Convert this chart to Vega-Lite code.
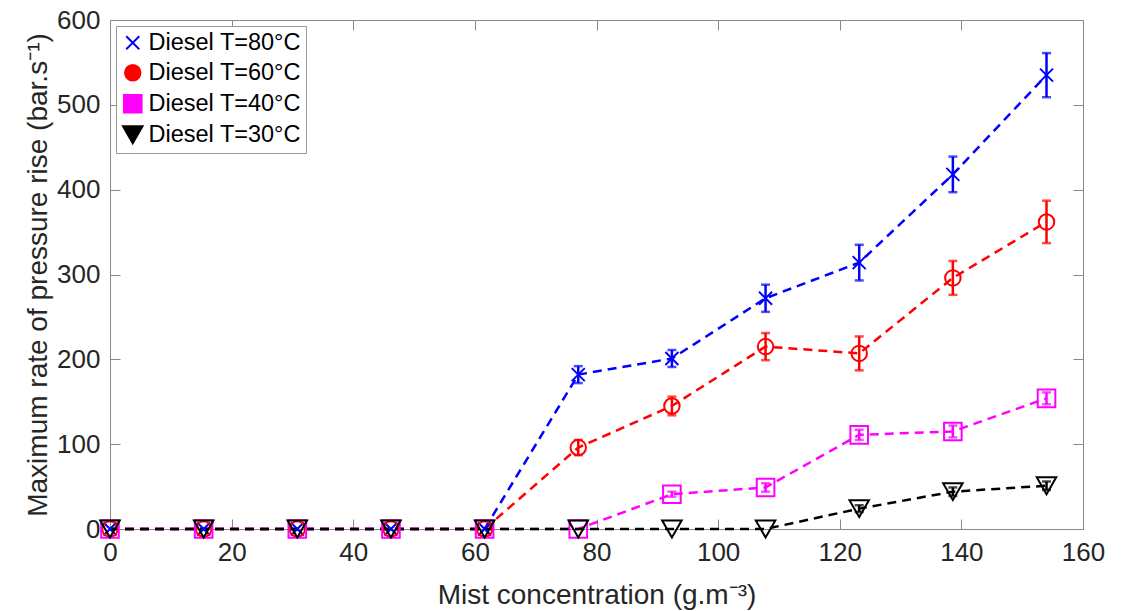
{
  "$schema": "https://vega.github.io/schema/vega-lite/v6.json",
  "width": 973,
  "height": 509,
  "autosize": {"type": "none"},
  "padding": {"left": 110, "top": 20, "right": 46, "bottom": 82},
  "background": "white",
  "config": {
    "font": "Liberation Sans",
    "view": {"stroke": "#888888", "strokeWidth": 1},
    "axis": {
      "grid": false,
      "domainColor": "#888888",
      "tickColor": "#888888",
      "tickSize": -10,
      "labelFontSize": 26,
      "labelColor": "#262626",
      "labelOverlap": false,
      "labelFlush": false,
      "titleFontSize": 28,
      "titleFontWeight": "normal",
      "titleColor": "#262626"
    },
    "legend": {"title": null, "orient": "top-left", "offset": 6, "fillColor": "white", "strokeColor": "#999999", "padding": 5,
               "labelFontSize": 23.5, "labelColor": "#000000", "symbolStrokeWidth": 2, "symbolSize": 196, "rowPadding": 5, "labelOffset": 4,
               "symbolFillColor": "transparent", "symbolOpacity": 1}
  },
  "data": {
    "values": [
      {"x": 0, "y": 0, "err": 0, "s": "Diesel T=80°C"},
      {"x": 15.4, "y": 0, "err": 0, "s": "Diesel T=80°C"},
      {"x": 30.8, "y": 0, "err": 0, "s": "Diesel T=80°C"},
      {"x": 46.2, "y": 0, "err": 0, "s": "Diesel T=80°C"},
      {"x": 61.6, "y": 0, "err": 0, "s": "Diesel T=80°C"},
      {"x": 77, "y": 182, "err": 10, "s": "Diesel T=80°C"},
      {"x": 92.4, "y": 201, "err": 10, "s": "Diesel T=80°C"},
      {"x": 107.8, "y": 272, "err": 16, "s": "Diesel T=80°C"},
      {"x": 123.2, "y": 314, "err": 21, "s": "Diesel T=80°C"},
      {"x": 138.6, "y": 418, "err": 21, "s": "Diesel T=80°C"},
      {"x": 154, "y": 535, "err": 26, "s": "Diesel T=80°C"},
      {"x": 0, "y": 0, "err": 0, "s": "Diesel T=60°C"},
      {"x": 15.4, "y": 0, "err": 0, "s": "Diesel T=60°C"},
      {"x": 30.8, "y": 0, "err": 0, "s": "Diesel T=60°C"},
      {"x": 46.2, "y": 0, "err": 0, "s": "Diesel T=60°C"},
      {"x": 61.6, "y": 0, "err": 0, "s": "Diesel T=60°C"},
      {"x": 77, "y": 96, "err": 9, "s": "Diesel T=60°C"},
      {"x": 92.4, "y": 145, "err": 11, "s": "Diesel T=60°C"},
      {"x": 107.8, "y": 215, "err": 16, "s": "Diesel T=60°C"},
      {"x": 123.2, "y": 207, "err": 20, "s": "Diesel T=60°C"},
      {"x": 138.6, "y": 296, "err": 20, "s": "Diesel T=60°C"},
      {"x": 154, "y": 362, "err": 25, "s": "Diesel T=60°C"},
      {"x": 0, "y": 0, "err": 0, "s": "Diesel T=40°C"},
      {"x": 15.4, "y": 0, "err": 0, "s": "Diesel T=40°C"},
      {"x": 30.8, "y": 0, "err": 0, "s": "Diesel T=40°C"},
      {"x": 46.2, "y": 0, "err": 0, "s": "Diesel T=40°C"},
      {"x": 61.6, "y": 0, "err": 0, "s": "Diesel T=40°C"},
      {"x": 77, "y": 0, "err": 0, "s": "Diesel T=40°C"},
      {"x": 92.4, "y": 41, "err": 3, "s": "Diesel T=40°C"},
      {"x": 107.8, "y": 49, "err": 5, "s": "Diesel T=40°C"},
      {"x": 123.2, "y": 111, "err": 6, "s": "Diesel T=40°C"},
      {"x": 138.6, "y": 115, "err": 7, "s": "Diesel T=40°C"},
      {"x": 154, "y": 154, "err": 7, "s": "Diesel T=40°C"},
      {"x": 0, "y": 0, "err": 0, "s": "Diesel T=30°C"},
      {"x": 15.4, "y": 0, "err": 0, "s": "Diesel T=30°C"},
      {"x": 30.8, "y": 0, "err": 0, "s": "Diesel T=30°C"},
      {"x": 46.2, "y": 0, "err": 0, "s": "Diesel T=30°C"},
      {"x": 61.6, "y": 0, "err": 0, "s": "Diesel T=30°C"},
      {"x": 77, "y": 0, "err": 0, "s": "Diesel T=30°C"},
      {"x": 92.4, "y": 0, "err": 0, "s": "Diesel T=30°C"},
      {"x": 107.8, "y": 0, "err": 0, "s": "Diesel T=30°C"},
      {"x": 123.2, "y": 24, "err": 4, "s": "Diesel T=30°C"},
      {"x": 138.6, "y": 44, "err": 5, "s": "Diesel T=30°C"},
      {"x": 154, "y": 51, "err": 5, "s": "Diesel T=30°C"}
    ]
  },
  "resolve": {"axis": {"x": "independent", "y": "independent"}},
  "layer": [
    {
      "mark": {"type": "line", "strokeDash": [9, 6], "strokeWidth": 2.5},
      "encoding": {
        "x": {"field": "x", "type": "quantitative", "scale": {"domain": [0, 160], "nice": false},
              "axis": {"values": [0, 20, 40, 60, 80, 100, 120, 140, 160], "title": "Mist concentration (g.m⁻³)", "labelPadding": 20, "titlePadding": 16}},
        "y": {"field": "y", "type": "quantitative", "scale": {"domain": [0, 600], "nice": false},
              "axis": {"values": [0, 100, 200, 300, 400, 500, 600], "title": "Maximum rate of pressure rise (bar.s⁻¹)", "labelPadding": 20, "titlePadding": 4}},
        "color": {"field": "s", "type": "nominal",
                  "legend": {"encode": {"symbols": {"update": {
                               "fill": {"value": "transparent"}, "strokeWidth": {"value": 2}, "opacity": {"value": 1}, "strokeDash": {"value": []},
                               "shape": {"signal": "datum.label == 'Diesel T=80°C' ? 'M-1.85,0H-1.1M1.1,0H1.85M-0.9,-0.9L0.9,0.9M-0.9,0.9L0.9,-0.9' : datum.label == 'Diesel T=60°C' ? 'M-1.85,0H-1.4M1.4,0H1.85M1.4,0A1.4,1.4 0 1,1 -1.4,0A1.4,1.4 0 1,1 1.4,0' : datum.label == 'Diesel T=40°C' ? 'M-1.85,0H-1.15M1.15,0H1.85M-1.15,-1.15H1.15V1.15H-1.15Z' : 'M-1.85,0H-0.8M0.8,0H1.85M-1.5,-1.2H1.5L0,1.35Z'"}
                             }}}},
                  "scale": {"domain": ["Diesel T=80°C", "Diesel T=60°C", "Diesel T=40°C", "Diesel T=30°C"], "range": ["#0000ff", "#ff0000", "#ff00ff", "#000000"]}}
      }
    },
    {
      "transform": [{"filter": "datum.err > 0"}],
      "mark": {"type": "errorbar", "ticks": {"size": 9, "thickness": 2.5}, "thickness": 2.5},
      "encoding": {
        "x": {"field": "x", "type": "quantitative", "axis": null},
        "y": {"field": "y", "type": "quantitative", "axis": null},
        "yError": {"field": "err"},
        "color": {"field": "s", "type": "nominal"}
      }
    },
    {
      "mark": {"type": "point", "filled": false, "strokeWidth": 2, "opacity": 1},
      "encoding": {
        "x": {"field": "x", "type": "quantitative", "axis": null},
        "y": {"field": "y", "type": "quantitative", "axis": null},
        "color": {"field": "s", "type": "nominal"},
        "shape": {"field": "s", "type": "nominal", "legend": null,
                  "scale": {"domain": ["Diesel T=80°C", "Diesel T=60°C", "Diesel T=40°C", "Diesel T=30°C"],
                            "range": ["M-1,-1L1,1M-1,1L1,-1", "circle", "square", "triangle-down"]}},
        "size": {"field": "s", "type": "nominal", "legend": null,
                 "scale": {"domain": ["Diesel T=80°C", "Diesel T=60°C", "Diesel T=40°C", "Diesel T=30°C"], "range": [170, 380, 230, 260]}}
      }
    },
    {
      "mark": {"type": "point", "opacity": 0},
      "encoding": {
        "x": {"field": "x", "type": "quantitative",
              "axis": {"orient": "top", "values": [0, 20, 40, 60, 80, 100, 120, 140, 160], "labels": false, "title": null, "domain": false}},
        "y": {"field": "y", "type": "quantitative",
              "axis": {"orient": "right", "values": [0, 100, 200, 300, 400, 500, 600], "labels": false, "title": null, "domain": false}}
      }
    }
  ]
}
